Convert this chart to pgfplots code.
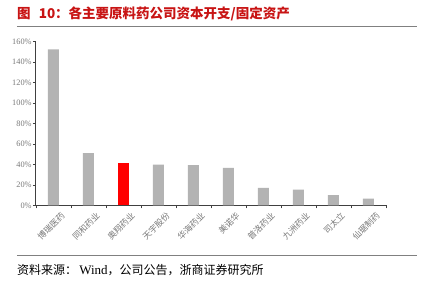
\documentclass[border=0pt]{standalone}
\usepackage{pgfplots}
\pgfplotsset{compat=1.18}
\usepackage{fontspec}
\setmainfont{Liberation Serif}
\newfontfamily\cjk{Noto Sans CJK SC}
\definecolor{titlered}{RGB}{200,20,20}
\definecolor{bargray}{RGB}{179,179,179}
\definecolor{tickgray}{RGB}{120,120,120}
\definecolor{linegray}{RGB}{128,128,128}
\begin{document}
\begin{tikzpicture}
\path[use as bounding box] (-53.3pt,-86.7pt) rectangle (371.7pt,205.3pt);
\begin{axis}[
  at={(0pt,0pt)}, anchor=origin,
  scale only axis, width=350pt, height=164pt,
  xmin=-0.5, xmax=9.5, ymin=0, ymax=160,
  axis x line=bottom, axis y line=left,
  axis line style={-, draw=black!75, line width=0.6pt},
  ytick={0,20,...,160},
  yticklabel={\pgfmathprintnumber{\tick}\%},
  yticklabel style={font=\fontsize{8.3}{9}\selectfont, color=tickgray, inner sep=1pt},
  /pgf/number format/assume math mode=true,
  tick align=outside,
  major tick length=3pt,
  tick style={draw=black!75, line width=0.5pt},
  xtick={0,...,9},
  x tick style={draw=none},
  minor xtick={-0.5,0.5,...,9.5},
  minor x tick style={draw=black!75, line width=0.5pt},
  minor tick length=3pt,
  xticklabels={博瑞医药,同和药业,奥翔药业,天宇股份,华海药业,美诺华,普洛药业,九洲药业,司太立,仙琚制药},
  xticklabel style={font=\cjk\fontsize{8.5}{9}\selectfont, color=tickgray, rotate=45, anchor=north east, inner sep=1pt, yshift=-6pt, xshift=4pt},
  ybar, bar width=11pt,
  enlarge x limits=false,
  clip=false,
]
\addplot[fill=bargray, draw=none, bar shift=0pt] coordinates {(0,152.2) (1,51) (3,39.6) (4,39.3) (5,36.4) (6,16.9) (7,15.2) (8,10) (9,6.4)};
\addplot[fill=red, draw=none, bar shift=0pt] coordinates {(2,41.6)};
\end{axis}
\node[anchor=west, inner sep=0pt, text=titlered] at (-36.3pt,191.3pt) {\cjk\bfseries\fontsize{13.5}{14}\selectfont 图\hspace{0.6em}10：各主要原料药公司资本开支/固定资产};
\draw[linegray, line width=1.2pt] (-36.3pt,178.6pt) -- (363.4pt,178.6pt);
\draw[linegray, line width=0.8pt] (-36.3pt,-50.4pt) -- (363.4pt,-50.4pt);
\node[anchor=west, inner sep=0pt] at (-36.3pt,-64.7pt) {\cjk\fontsize{12}{13}\selectfont 资料来源：{\rmfamily\fontsize{13}{14}\selectfont\,Wind}，公司公告，浙商证券研究所};
\end{tikzpicture}
\end{document}
